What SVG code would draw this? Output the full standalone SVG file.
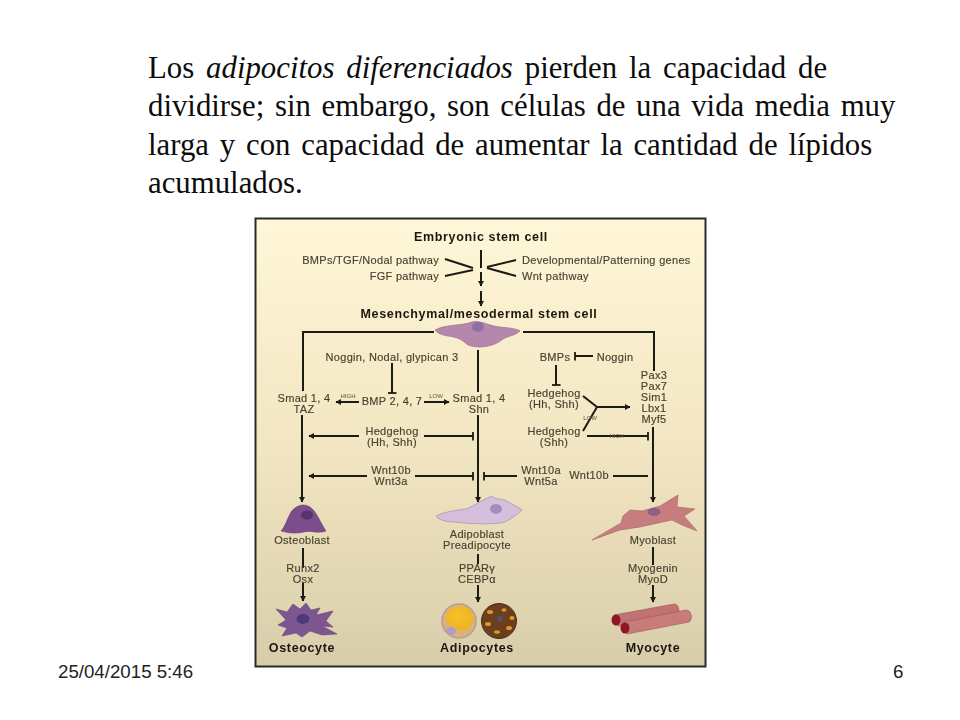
<svg xmlns="http://www.w3.org/2000/svg" width="960" height="720" viewBox="0 0 960 720">
<style>
.h{font-family:"Liberation Serif","Times New Roman",serif;font-size:30.8px;fill:#0c0c0c}
.f{font-family:"Liberation Sans",Arial,sans-serif;font-size:18.7px;fill:#222}
.t{font-family:"Liberation Sans",Arial,sans-serif;font-size:11px;letter-spacing:.3px;fill:#4a4030;text-anchor:middle;stroke:#4a4030;stroke-width:.15}
.b{font-family:"Liberation Sans",Arial,sans-serif;font-size:12.5px;letter-spacing:.65px;font-weight:bold;fill:#1c1810;text-anchor:middle}
.s{font-family:"Liberation Sans",Arial,sans-serif;font-size:6px;fill:#5a5040;text-anchor:middle}
.c{fill:none;stroke:#1e1a12;stroke-width:2}
.a{marker-end:url(#ah)}
.i{marker-end:url(#ib)}
</style>
<defs>
<linearGradient id="bg" x1="0" y1="0" x2="0" y2="1"><stop offset="0" stop-color="#fff7d8"/><stop offset=".5" stop-color="#f3e6c2"/><stop offset="1" stop-color="#d8cdaa"/></linearGradient>
<radialGradient id="fat" cx=".45" cy=".4" r=".6"><stop offset="0" stop-color="#f8c326"/><stop offset="1" stop-color="#eeb125"/></radialGradient>
<marker id="ah" markerUnits="userSpaceOnUse" markerWidth="7" markerHeight="7" refX="5" refY="3" orient="auto"><path d="M0 0L5.5 3L0 6Z" fill="#1e1a12"/></marker>
<marker id="ib" markerUnits="userSpaceOnUse" markerWidth="3" markerHeight="9" refX="1.5" refY="4.5" orient="auto"><path d="M1.5 0V9" stroke="#1e1a12" stroke-width="1.8"/></marker>
<filter id="soft" x="-2%" y="-2%" width="104%" height="104%"><feGaussianBlur stdDeviation=".4"/></filter>
</defs>
<rect width="960" height="720" fill="#fff"/>
<g id="heading">
<text class="h" x="148" y="78" word-spacing="4.2">Los <tspan font-style="italic">adipocitos diferenciados</tspan> pierden la capacidad de</text>
<text class="h" x="148" y="116" word-spacing="2.9">dividirse; sin embargo, son células de una vida media muy</text>
<text class="h" x="148" y="155" word-spacing="3.1">larga y con capacidad de aumentar la cantidad de lípidos</text>
<text class="h" x="148" y="193">acumulados.</text>
</g>
<g id="footer">
<text class="f" x="58" y="678">25/04/2015 5:46</text>
<text class="f" x="893" y="678">6</text>
</g>
<g id="figure" filter="url(#soft)">
<rect id="panel" x="255.500" y="218.500" width="450" height="448" fill="url(#bg)" stroke="#2a2a28" stroke-width="2"/>
<g id="connectors">
<path class="c" d="M481 250V268"/>
<path class="c a" d="M481 272V286"/>
<path class="c a" d="M481 291V306"/>
<path class="c" d="M445 259L473 268M445 276L473 270M516 260L487 267M516 276L487 268"/>
<path class="c" d="M434 332H303V391"/>
<path class="c a" d="M302 415V502"/>
<path class="c" d="M523 332H654V371"/>
<path class="c a" d="M653 427V502"/>
<path class="c" d="M478 350V392"/>
<path class="c a" d="M478 415V502"/>
<path class="c i" d="M392 363V393"/>
<path class="c a" d="M359 402H336"/>
<path class="c a" d="M424 402H449"/>
<path class="c i" d="M593 356H575"/>
<path class="c i" d="M556 365V385"/>
<path class="c" d="M583 396L597 407L583 431"/>
<path class="c a" d="M597 407H630"/>
<path class="c a" d="M359 436H309"/>
<path class="c i" d="M424 436H473"/>
<path class="c i" d="M587 436H648"/>
<path class="c a" d="M367 476H309"/>
<path class="c i" d="M415 476H473"/>
<path class="c i" d="M517 476H484"/>
<path class="c" d="M613 476H648"/>
<path class="c" d="M303 548V568"/>
<path class="c a" d="M303 583V601"/>
<path class="c" d="M478 554V564"/>
<path class="c a" d="M478 585V602"/>
<path class="c" d="M653 547V565"/>
<path class="c a" d="M653 585V602"/>
</g>
<g id="embryonic"><text class="b" x="481" y="241">Embryonic stem cell</text></g>
<g id="bmps-tgf"><text class="t" x="439" y="264" style="text-anchor:end">BMPs/TGF/Nodal pathway</text></g>
<g id="fgf"><text class="t" x="439" y="280" style="text-anchor:end">FGF pathway</text></g>
<g id="developmental"><text class="t" x="522" y="264" style="text-anchor:start">Developmental/Patterning genes</text></g>
<g id="wnt"><text class="t" x="522" y="280" style="text-anchor:start">Wnt pathway</text></g>
<g id="mesenchymal"><text class="b" x="479" y="318">Mesenchymal/mesodermal stem cell</text>
<path d="M435 330C446 324 462 326 472 322C482 320 488 326 500 327C510 328 518 329 520 331C514 336 508 336 503 339C494 347 478 349 468 345C462 340 458 337 448 336C442 335 437 333 435 330Z" fill="#b587ac" stroke="#9a6f97" stroke-width=".7"/>
<ellipse cx="478" cy="327" rx="6" ry="5" fill="#8e6ea8"/></g>
<g id="noggin-nodal"><text class="t" x="392" y="361">Noggin, Nodal, glypican 3</text></g>
<g id="bmps"><text class="t" x="555" y="361">BMPs</text></g>
<g id="noggin"><text class="t" x="615" y="361">Noggin</text></g>
<g id="pax"><text class="t" x="654" y="379">Pax3</text><text class="t" x="654" y="390">Pax7</text><text class="t" x="654" y="401">Sim1</text><text class="t" x="654" y="412">Lbx1</text><text class="t" x="654" y="423">Myf5</text></g>
<g id="smad-taz"><text class="t" x="304" y="402">Smad 1, 4</text><text class="t" x="304" y="413">TAZ</text></g>
<g id="bmp247"><text class="t" x="392" y="405">BMP 2, 4, 7</text></g>
<text class="s" x="348" y="398">HIGH</text><text class="s" x="436" y="398">LOW</text>
<g id="smad-shn"><text class="t" x="479" y="402">Smad 1, 4</text><text class="t" x="479" y="413">Shn</text></g>
<g id="hedgehog-hh-right"><text class="t" x="554" y="397">Hedgehog</text><text class="t" x="554" y="408">(Hh, Shh)</text></g>
<text class="s" x="590" y="420">LOW</text>
<g id="hedgehog-shh"><text class="t" x="554" y="435">Hedgehog</text><text class="t" x="554" y="446">(Shh)</text></g>
<text class="s" x="617" y="438">HIGH</text>
<g id="hedgehog-hh-left"><text class="t" x="392" y="435">Hedgehog</text><text class="t" x="392" y="446">(Hh, Shh)</text></g>
<g id="wnt10b-3a"><text class="t" x="391" y="474">Wnt10b</text><text class="t" x="391" y="485">Wnt3a</text></g>
<g id="wnt10a-5a"><text class="t" x="541" y="474">Wnt10a</text><text class="t" x="541" y="485">Wnt5a</text></g>
<g id="wnt10b"><text class="t" x="589" y="479">Wnt10b</text></g>
<g id="osteoblast">
<path d="M281 531C285 527 287 519 291 512C296 505 304 503 310 507C317 512 320 522 326 531C318 534 310 530 304 532C296 534 288 533 281 531Z" fill="#7c4d8c" stroke="#5f3a70" stroke-width=".5"/>
<ellipse cx="307" cy="515" rx="6" ry="4.500" fill="#55356f"/>
<text class="t" x="302" y="544">Osteoblast</text></g>
<g id="runx"><text class="t" x="303" y="572">Runx2</text><text class="t" x="303" y="583">Osx</text></g>
<g id="osteocyte">
<path d="M276 609L287 612L293 604L300 609L306 603L311 610L320 608L316 615L333 611L326 621L333 627L322 626L337 634L322 635L310 631L302 637L296 633L282 636L287 628L278 625L286 620Z" fill="#7d5590" stroke="#64437a" stroke-width=".6"/>
<ellipse cx="303" cy="619" rx="6.500" ry="5" fill="#4d3b79"/>
<text class="b" x="302" y="652">Osteocyte</text></g>
<g id="adipoblast">
<path d="M436 516C444 512 456 510 466 509C472 507 480 501 492 496C494 499 501 499 505 500C513 505 520 508 522 510C516 516 510 519 505 522C495 525 470 524 455 522C446 522 439 520 436 516Z" fill="#d5bfdc" stroke="#a88cb0" stroke-width=".7"/>
<ellipse cx="496" cy="509" rx="6" ry="5" fill="#a28fc0"/>
<text class="t" x="477" y="538">Adipoblast</text><text class="t" x="477" y="549">Preadipocyte</text></g>
<g id="ppar"><text class="t" x="477" y="572">PPARγ</text><text class="t" x="477" y="583">CEBPα</text></g>
<g id="adipocytes">
<circle cx="459" cy="621" r="17" fill="#d8b37c" stroke="#b89ba0" stroke-width="1.5"/>
<path d="M446 616C448 607 460 604 468 608C476 614 475 626 466 630C459 633 456 627 451 626C447 624 445 620 446 616Z" fill="url(#fat)"/>
<ellipse cx="451" cy="631" rx="5" ry="4" fill="#b69ac0"/>
<circle cx="499" cy="621" r="17.500" fill="#6a3f1c" stroke="#4b3016" stroke-width="1"/>
<g fill="#e0962a"><ellipse cx="490" cy="612" rx="3" ry="2"/><ellipse cx="504" cy="610" rx="2.500" ry="1.800"/><ellipse cx="512" cy="618" rx="2.500" ry="2"/><ellipse cx="488" cy="624" rx="3" ry="2"/><ellipse cx="509" cy="628" rx="3" ry="2"/><ellipse cx="497" cy="632" rx="3" ry="1.800"/></g>
<circle cx="500" cy="619" r="3" fill="#55506a"/>
<text class="b" x="477" y="652">Adipocytes</text></g>
<g id="myoblast">
<path d="M592 540L621 523L623 516L630 510L642 511L660 506L678 495L677 507L695 509L684 516L697 531L682 525L672 520L658 523L640 527L620 530Z" fill="#c77d7f" stroke="#a56063" stroke-width=".6"/>
<ellipse cx="654" cy="512" rx="6.500" ry="4" fill="#8f5f89"/>
<text class="t" x="653" y="544">Myoblast</text></g>
<g id="myogenin"><text class="t" x="653" y="572">Myogenin</text><text class="t" x="653" y="583">MyoD</text></g>
<g id="myocyte">
<path d="M614 615L674 604C679 604 680 612 678 615L618 626Z" fill="#c27272" stroke="#9c5555" stroke-width=".6"/>
<path d="M624 622L686 610C692 610 693 620 689 622L627 634Z" fill="#c87c7a" stroke="#9c5555" stroke-width=".6"/>
<ellipse cx="616" cy="620" rx="4.500" ry="5.500" fill="#8e1826"/>
<ellipse cx="625" cy="628" rx="4.500" ry="5.500" fill="#8e1826"/>
<text class="b" x="653" y="652">Myocyte</text></g>
</g>
</svg>
